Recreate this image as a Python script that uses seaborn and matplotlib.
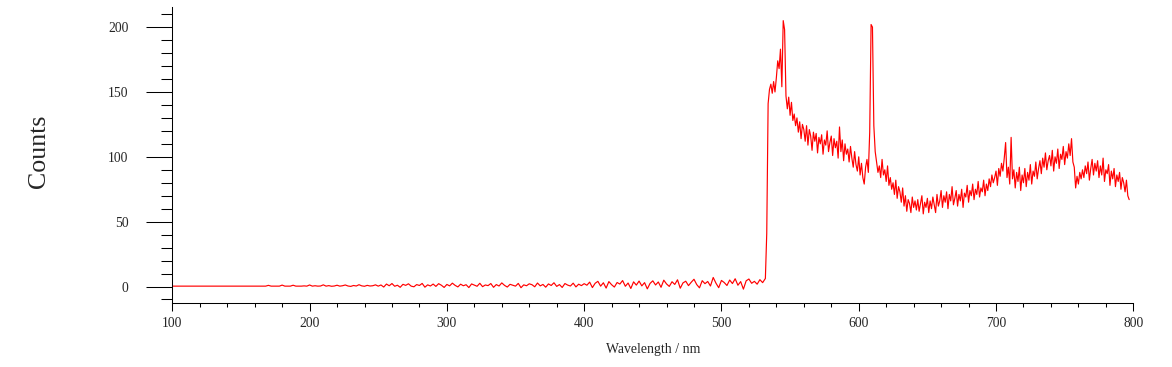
import numpy as np
import pandas as pd
import matplotlib
matplotlib.use("Agg")
import matplotlib.pyplot as plt
from matplotlib.ticker import MultipleLocator
import seaborn as sns

# ---- data ----
# low-signal part: 100 .. 532 nm, every 2 nm
low_start_nm = 100
low_step_nm = 2
low_counts = [
    0.3, 0.3, 0.3, 0.3, 0.3, 0.3, 0.3, 0.3, 0.3, 0.3,
    0.3, 0.3, 0.3, 0.3, 0.3, 0.3, 0.3, 0.3, 0.3, 0.3,
    0.3, 0.3, 0.3, 0.3, 0.3, 0.3, 0.3, 0.3, 0.3, 0.3,
    0.3, 0.3, 0.3,
    0.3, 0.3, 0.9, 0.3, 0.3, 0.3, 0.3, 1.1, 0.3, 0.3,
    0.3, 1.0, 0.3, 0.3, 0.3, 0.5, 0.3, 1.2, 0.3, 0.6,
    0.3, 0.4, 1.3, 0.3, 0.7, 0.2, 0.4, 1.0, 0.3, 0.6,
    1.2, 0.4, 0.1, 0.8, 0.4, 1.4, 0.5, 0.2, 0.9, 0.4,
    0.6, 1.3, 0.3,
    1.2, -0.4, 1.9, 0.6, 2.3, 0.2, 1.0, -0.6, 1.7, 0.9,
    2.1, 0.3, -0.2, 1.5, 0.8, 2.4, -0.5, 1.3, 0.4, 1.9,
    0.1, 2.2, 1.0, -0.7, 1.6, 0.5, 2.6, 0.9, -0.3, 1.8,
    0.6, 1.4, -0.8, 2.0, 1.1, 0.2, 2.5, -0.1, 1.2, 0.7,
    2.3, -0.6, 1.5, 0.4, 2.8, 0.9, -0.4, 1.7, 1.0, 0.3,
    2.4, -0.9, 1.3, 0.6, 2.1, 1.4, -0.2, 2.7, 0.5, 1.6,
    -0.5, 2.0, 0.8, 2.9, 0.1, 1.5, -0.7, 2.3, 1.1, 0.4,
    2.6, -0.3, 1.8, 0.7, 2.2,
    1.0, 3.4, -0.8, 2.5, 4.0, 0.3, 2.9, -1.2, 3.8, 1.4,
    -0.4, 3.1, 1.9, 4.6, 0.2, 2.7, -1.5, 3.6, 1.1, 4.2,
    0.5, 3.0, -1.8, 2.4, 4.4, 1.2, 3.5, -0.6, 4.9, 2.0,
    0.1, 3.7, 1.6, 5.2, -1.3, 2.8, 4.1, 0.7, 3.3, 5.6,
    1.5, -1.0, 4.5, 2.2, 3.9, 0.4, 7.0, 2.6, -0.9, 4.7,
    3.1, 0.8, 5.0, 2.3, 6.0, 1.0, 3.8, -2.0, 4.4, 5.8,
    2.5, 4.0, 1.8, 5.3, 3.0, 6.2,
]

# signal part: 533 .. 797 nm, every 1 nm
high_start_nm = 533
high_step_nm = 1
high_counts = [
    41, 141, 152, 156, 149, 158, 150, 161, 174, 168,   # 533-542
    183, 154, 205, 198, 147, 137, 146, 132, 142, 128,  # 543-552
    133, 124, 130, 119, 127, 114, 125, 121, 112, 124,  # 553-562
    109, 121, 116, 105, 119, 112, 118, 103, 115, 110,  # 563-572
    117, 102, 113, 109, 120, 104, 111, 116, 101, 114,  # 573-582
    107, 112, 99, 123, 104, 113, 97, 110, 102, 106,    # 583-592
    96, 108, 99, 92, 104, 94, 89, 100, 86, 95,         # 593-602
    84, 79, 92, 98, 88, 119, 202, 200, 124, 104,       # 603-612
    96, 88, 93, 84, 98, 86, 90, 81, 93, 78,            # 613-622
    84, 75, 80, 71, 82, 68, 77, 73, 65, 76,            # 623-632
    62, 70, 58, 67, 64, 57, 69, 61, 66, 59,            # 633-642
    67, 58, 64, 70, 56, 65, 61, 68, 57, 66,            # 643-652
    60, 69, 63, 57, 71, 62, 66, 74, 61, 70,            # 653-662
    65, 73, 60, 71, 66, 77, 63, 68, 74, 62,            # 663-672
    71, 66, 75, 61, 72, 69, 78, 65, 74, 70,            # 673-682
    79, 67, 75, 71, 81, 69, 76, 73, 82, 70,            # 683-692
    79, 74, 83, 77, 86, 80, 84, 89, 78, 91,            # 693-702
    85, 95, 89, 99, 111, 84, 92, 79, 115, 83,          # 703-712
    90, 76, 88, 81, 92, 74, 86, 80, 91, 77,            # 713-722
    88, 82, 94, 79, 89, 85, 96, 83, 91, 97,            # 723-732
    87, 99, 92, 103, 90, 97, 101, 93, 105, 89,         # 733-742
    100, 95, 106, 91, 102, 98, 108, 94, 104, 99,       # 743-752
    110, 101, 114, 96, 92, 76, 85, 79, 88, 83,         # 753-762
    90, 84, 93, 87, 96, 82, 91, 98, 86, 95,            # 763-772
    89, 97, 84, 93, 86, 99, 81, 90, 87, 94,            # 773-782
    78, 89, 83, 91, 77, 86, 81, 88, 75, 84,            # 783-792
    80, 73, 82, 70, 67,                                # 793-797
]

x_major_ticks = [100, 200, 300, 400, 500, 600, 700, 800]
y_major_ticks = [0, 50, 100, 150, 200]
x_label = "Wavelength / nm"
y_label = "Counts"

# ---- build table ----
low_wl = low_start_nm + low_step_nm * np.arange(len(low_counts))
high_wl = high_start_nm + high_step_nm * np.arange(len(high_counts))
df = pd.DataFrame({
    "wavelength": np.concatenate([low_wl, high_wl]).astype(float),
    "counts": np.array(low_counts + high_counts, dtype=float),
})

# ---- style ----
sns.set_style("ticks")
plt.rcParams["font.family"] = ["Liberation Serif", "DejaVu Serif"]

W, H, DPI = 1172, 367, 100
fig = plt.figure(figsize=(W / DPI, H / DPI), dpi=DPI)
left_px, right_px, top_px, bottom_px = 172.3, 1133.3, 7, 303
ax = fig.add_axes([left_px / W, 1 - bottom_px / H,
                   (right_px - left_px) / W, (bottom_px - top_px) / H])

sns.lineplot(data=df, x="wavelength", y="counts", ax=ax, color="#ff0000",
             linewidth=0.85, estimator=None, sort=False)

ax.set_xlim(100, 800)
ax.set_ylim(-12.7, 215.5)
ax.set_xticks(x_major_ticks)
ax.set_yticks(y_major_ticks)
ax.xaxis.set_minor_locator(MultipleLocator(20))
ax.yaxis.set_minor_locator(MultipleLocator(10))

for side in ["top", "right"]:
    ax.spines[side].set_visible(False)
for side in ["left", "bottom"]:
    ax.spines[side].set_linewidth(0.75)
    ax.spines[side].set_color("black")

ax.tick_params(axis="y", which="major", length=18.7, width=0.75, pad=13,
               labelsize=9.8, direction="out", color="black")
ax.tick_params(axis="y", which="minor", length=7.9, width=0.75,
               direction="out", color="black")
ax.tick_params(axis="x", which="major", length=5.8, width=0.75, pad=4,
               labelsize=9.8, direction="out", color="black")
ax.tick_params(axis="x", which="minor", length=2.9, width=0.75,
               direction="out", color="black")

ax.set_xlabel(x_label, fontsize=9.9)
ax.set_ylabel(y_label, fontsize=18.6)
ax.xaxis.label.set_va("center")
ax.yaxis.label.set_va("center")
ax.xaxis.set_label_coords(0.5, (bottom_px - 350) / (bottom_px - top_px))
ax.yaxis.set_label_coords((39 - left_px) / (right_px - left_px),
                          (bottom_px - 151) / (bottom_px - top_px))
ax.grid(False)

fig.savefig("out.png", dpi=DPI)
